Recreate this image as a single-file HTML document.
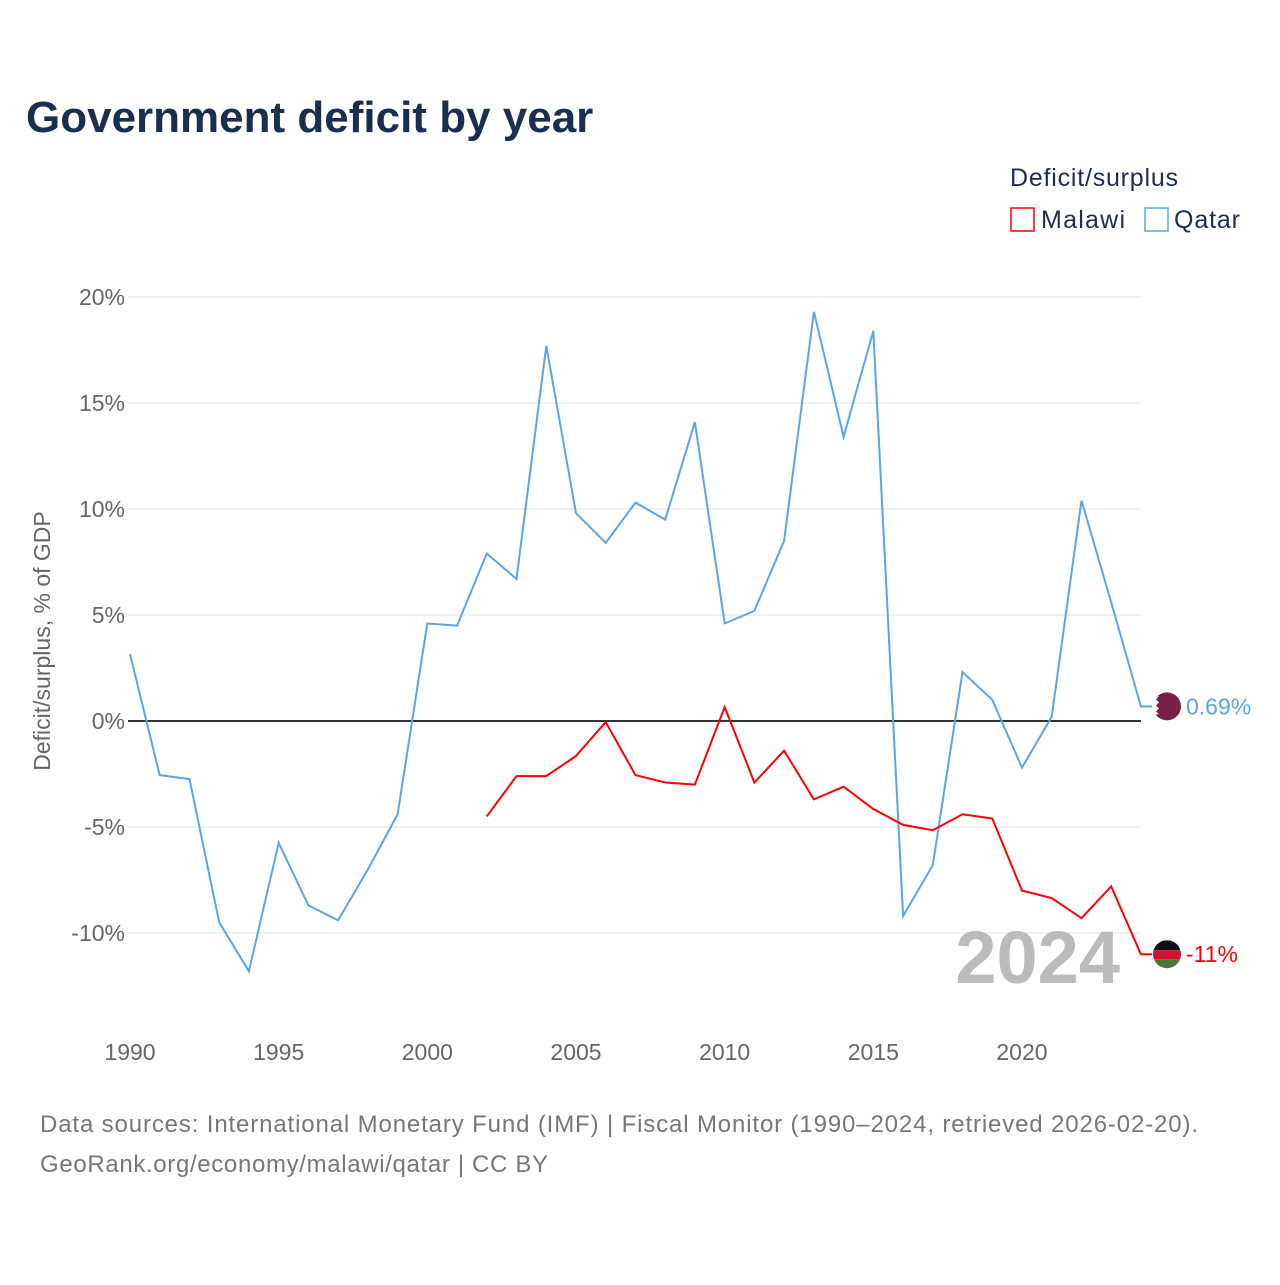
<!DOCTYPE html>
<html><head><meta charset="utf-8"><style>
body{margin:0;background:#fff;font-family:"Liberation Sans",sans-serif;}
#wrap{position:relative;width:1280px;height:1280px;}
</style></head><body>
<div id="wrap">
<svg id="chart" width="1280" height="1280">
<text x="26" y="132" font-size="44" font-weight="bold" fill="#1a2e4f">Government deficit by year</text>
<text x="1010" y="186" font-size="25" fill="#1a2e4f" textLength="168">Deficit/surplus</text>
<g><rect x="1011" y="208" width="23" height="23" fill="none" stroke="#f00" stroke-width="1.5"/><text x="1041" y="228" font-size="25" fill="#1a2e4f" textLength="84">Malawi</text></g>
<g><rect x="1145" y="208" width="23" height="23" fill="none" stroke="#5aa5e8" stroke-width="1.5"/><text x="1174" y="228" font-size="25" fill="#1a2e4f" textLength="66">Qatar</text></g>
<g id="grid"></g><g id="xt"></g><g id="series"></g>
<text x="1120" y="983" font-size="74" font-weight="bold" fill="#bbb" text-anchor="end">2024</text>
<text transform="translate(50,641) rotate(-90)" font-size="23" fill="#666" text-anchor="middle">Deficit/surplus, % of GDP</text>
<text x="40" y="1132" font-size="24" fill="#777" textLength="1158">Data sources: International Monetary Fund (IMF) | Fiscal Monitor (1990–2024, retrieved 2026-02-20).</text>
<text x="40" y="1172" font-size="24" fill="#777" textLength="508">GeoRank.org/economy/malawi/qatar | CC BY</text>
</svg></div>
<script>
const years=[];for(let y=1990;y<=2024;y++)years.push(y);
const qatar=[3.16,-2.55,-2.74,-9.5,-11.8,-5.75,-8.7,-9.4,-7.0,-4.4,4.6,4.5,7.9,6.7,17.7,9.8,8.4,10.3,9.5,14.1,4.6,5.2,8.5,19.3,13.4,18.4,-9.2,-6.8,2.3,1.0,-2.2,0.2,10.4,5.6,0.69];
const malawiYears=[2002,2003,2004,2005,2006,2007,2008,2009,2010,2011,2012,2013,2014,2015,2016,2017,2018,2019,2020,2021,2022,2023,2024];
const malawi=[-4.5,-2.6,-2.6,-1.65,-0.05,-2.55,-2.9,-3.0,0.66,-2.9,-1.4,-3.7,-3.1,-4.15,-4.9,-5.15,-4.4,-4.6,-8.0,-8.35,-9.3,-7.8,-11.0];
const yTicks=[20,15,10,5,0,-5,-10];
const xTicks=[1990,1995,2000,2005,2010,2015,2020];
const X=y=>130+(y-1990)*29.733, Y=v=>721-v*21.2;
const NS="http://www.w3.org/2000/svg";
function mk(t,a,p){const e=document.createElementNS(NS,t);for(const k in a)e.setAttribute(k,a[k]);p.appendChild(e);return e;}
const g=document.getElementById('grid');
yTicks.forEach(v=>{
 const l=mk('line',{x1:128,x2:1141,y1:Y(v),y2:Y(v),stroke:v===0?'#333':'#e6e6e6','stroke-width':v===0?2:1},g);
 
 
 const t=mk('text',{x:125,y:Y(v)+8,'font-size':23,fill:'#666','text-anchor':'end'},g);
 t.textContent=v+'%';
 
 
});
const xt=document.getElementById('xt');
xTicks.forEach(v=>{
 const t=mk('text',{x:X(v),y:1060,'font-size':23,fill:'#666','text-anchor':'middle'},xt);
 t.textContent=v;
 
 
});
const s=document.getElementById('series');
function line(xs,vs,col,name){
 const d=xs.map((x,i)=>(i?'L':'M')+X(x).toFixed(1)+','+Y(vs[i]).toFixed(1)).join('')+'H1152';
 const p=mk('path',{d:d,fill:'none',stroke:col,'stroke-width':2},s);
 
 
}
line(years,qatar,'#5aa5e8','qatar-line');
line(malawiYears,malawi,'#f00','malawi-line');
const qy=Y(qatar[qatar.length-1]), my=Y(malawi[malawi.length-1]);
const qf=mk('g',{},s);


mk('circle',{cx:1167,cy:qy,r:14,fill:'#7a1f45'},qf);
mk('path',{d:`M1153,${qy-10}h6l-3,3l3,3l-3,3l3,3l-3,3l3,3h-6z`,fill:'#fff'},qf);
const ql=mk('text',{x:1186,y:qy+8,'font-size':23,fill:'#5aa5e8'},s);ql.textContent='0.69%';


const mf=mk('g',{},s);


mk('clipPath',{id:'mc'},mf);mk('circle',{cx:1167,cy:my,r:14},mf.lastChild);
const mg=mk('g',{'clip-path':'url(#mc)'},mf);
mk('rect',{x:1153,y:my-14,width:28,height:10,fill:'#111'},mg);
mk('rect',{x:1153,y:my-4,width:28,height:9,fill:'#d21034'},mg);
mk('rect',{x:1153,y:my+5,width:28,height:10,fill:'#3f7a3a'},mg);
const ml=mk('text',{x:1186,y:my+8,'font-size':23,fill:'#f00'},s);ml.textContent='-11%';


</script></body></html>
